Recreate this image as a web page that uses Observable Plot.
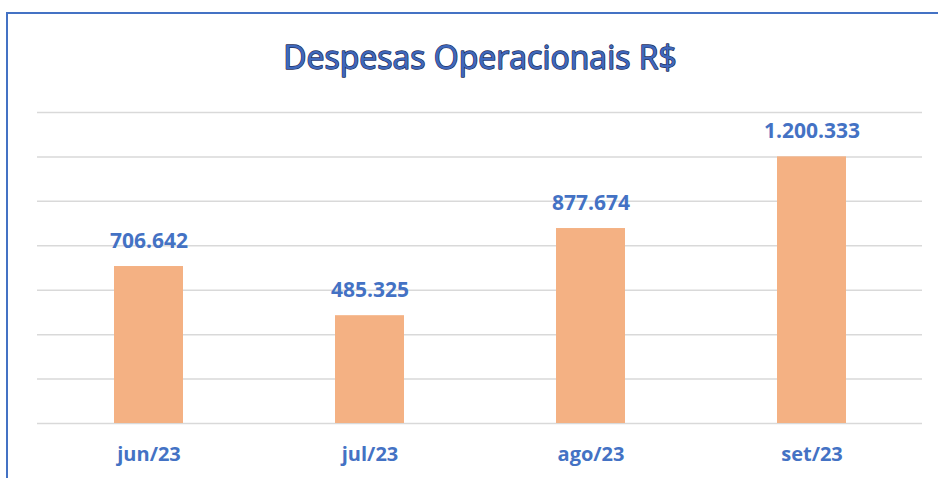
<!DOCTYPE html>
<html>
<head>
<meta charset="utf-8">
<script src="https://cdn.jsdelivr.net/npm/d3@7"></script>
<script src="https://cdn.jsdelivr.net/npm/@observablehq/plot@0.6"></script>
<style>
  html, body { margin: 0; padding: 0; background: #fff; }
  #wrap { position: relative; width: 938px; height: 478px; overflow: hidden; }
  #frame { position: absolute; left: 6px; top: 12px; width: 940px; height: 480px;
           border-top: 2px solid #4472C4; border-left: 2px solid #4472C4; box-sizing: border-box; }
  #chart { position: absolute; left: 0; top: 0; }
</style>
</head>
<body>
<div id="wrap"><div id="frame"></div><div id="chart"></div></div>
<script>
const title = "Despesas Operacionais R$";
const months = ["jun/23", "jul/23", "ago/23", "set/23"];
const values = [706642, 485325, 877674, 1200333];
const gridTicks = [0, 200000, 400000, 600000, 800000, 1000000, 1200000, 1400000];

const data = months.map((m, i) => ({month: m, value: values[i]}));
const fmt = v => d3.format(",")(v).replace(/,/g, ".");
const blue = "#4472C4";
const font = "'Open Sans', sans-serif";

const chart = Plot.plot({
  width: 938,
  height: 478,
  marginTop: 112,
  marginBottom: 55,
  marginLeft: 37,
  marginRight: 16,
  style: {fontFamily: font, background: "transparent"},
  x: {domain: months, paddingInner: 0.69, paddingOuter: 0.345, label: null},
  y: {domain: [0, 1400000], label: null, axis: null},
  marks: [
    Plot.ruleY(gridTicks, {stroke: "#D9D9D9", strokeWidth: 1.5}),
    Plot.barY(data, {x: "month", y: "value", fill: "#F4B183"}),
    Plot.text(data, {x: "month", y: "value", text: d => fmt(d.value), dy: -19, lineAnchor: "bottom",
      fill: blue, fontWeight: "bold", fontSize: 21}),
    Plot.axisX({tickSize: 0, tickPadding: 23, fontSize: 20, fontWeight: "bold", fill: blue, label: null}),
    Plot.text([title], {frameAnchor: "top", dy: -54, lineAnchor: "middle", fontSize: 32,
      fill: "#3F68BC", stroke: "#1F2F5C", strokeWidth: 1.4, paintOrder: "stroke"})
  ]
});
document.getElementById("chart").appendChild(chart);
</script>
</body>
</html>
